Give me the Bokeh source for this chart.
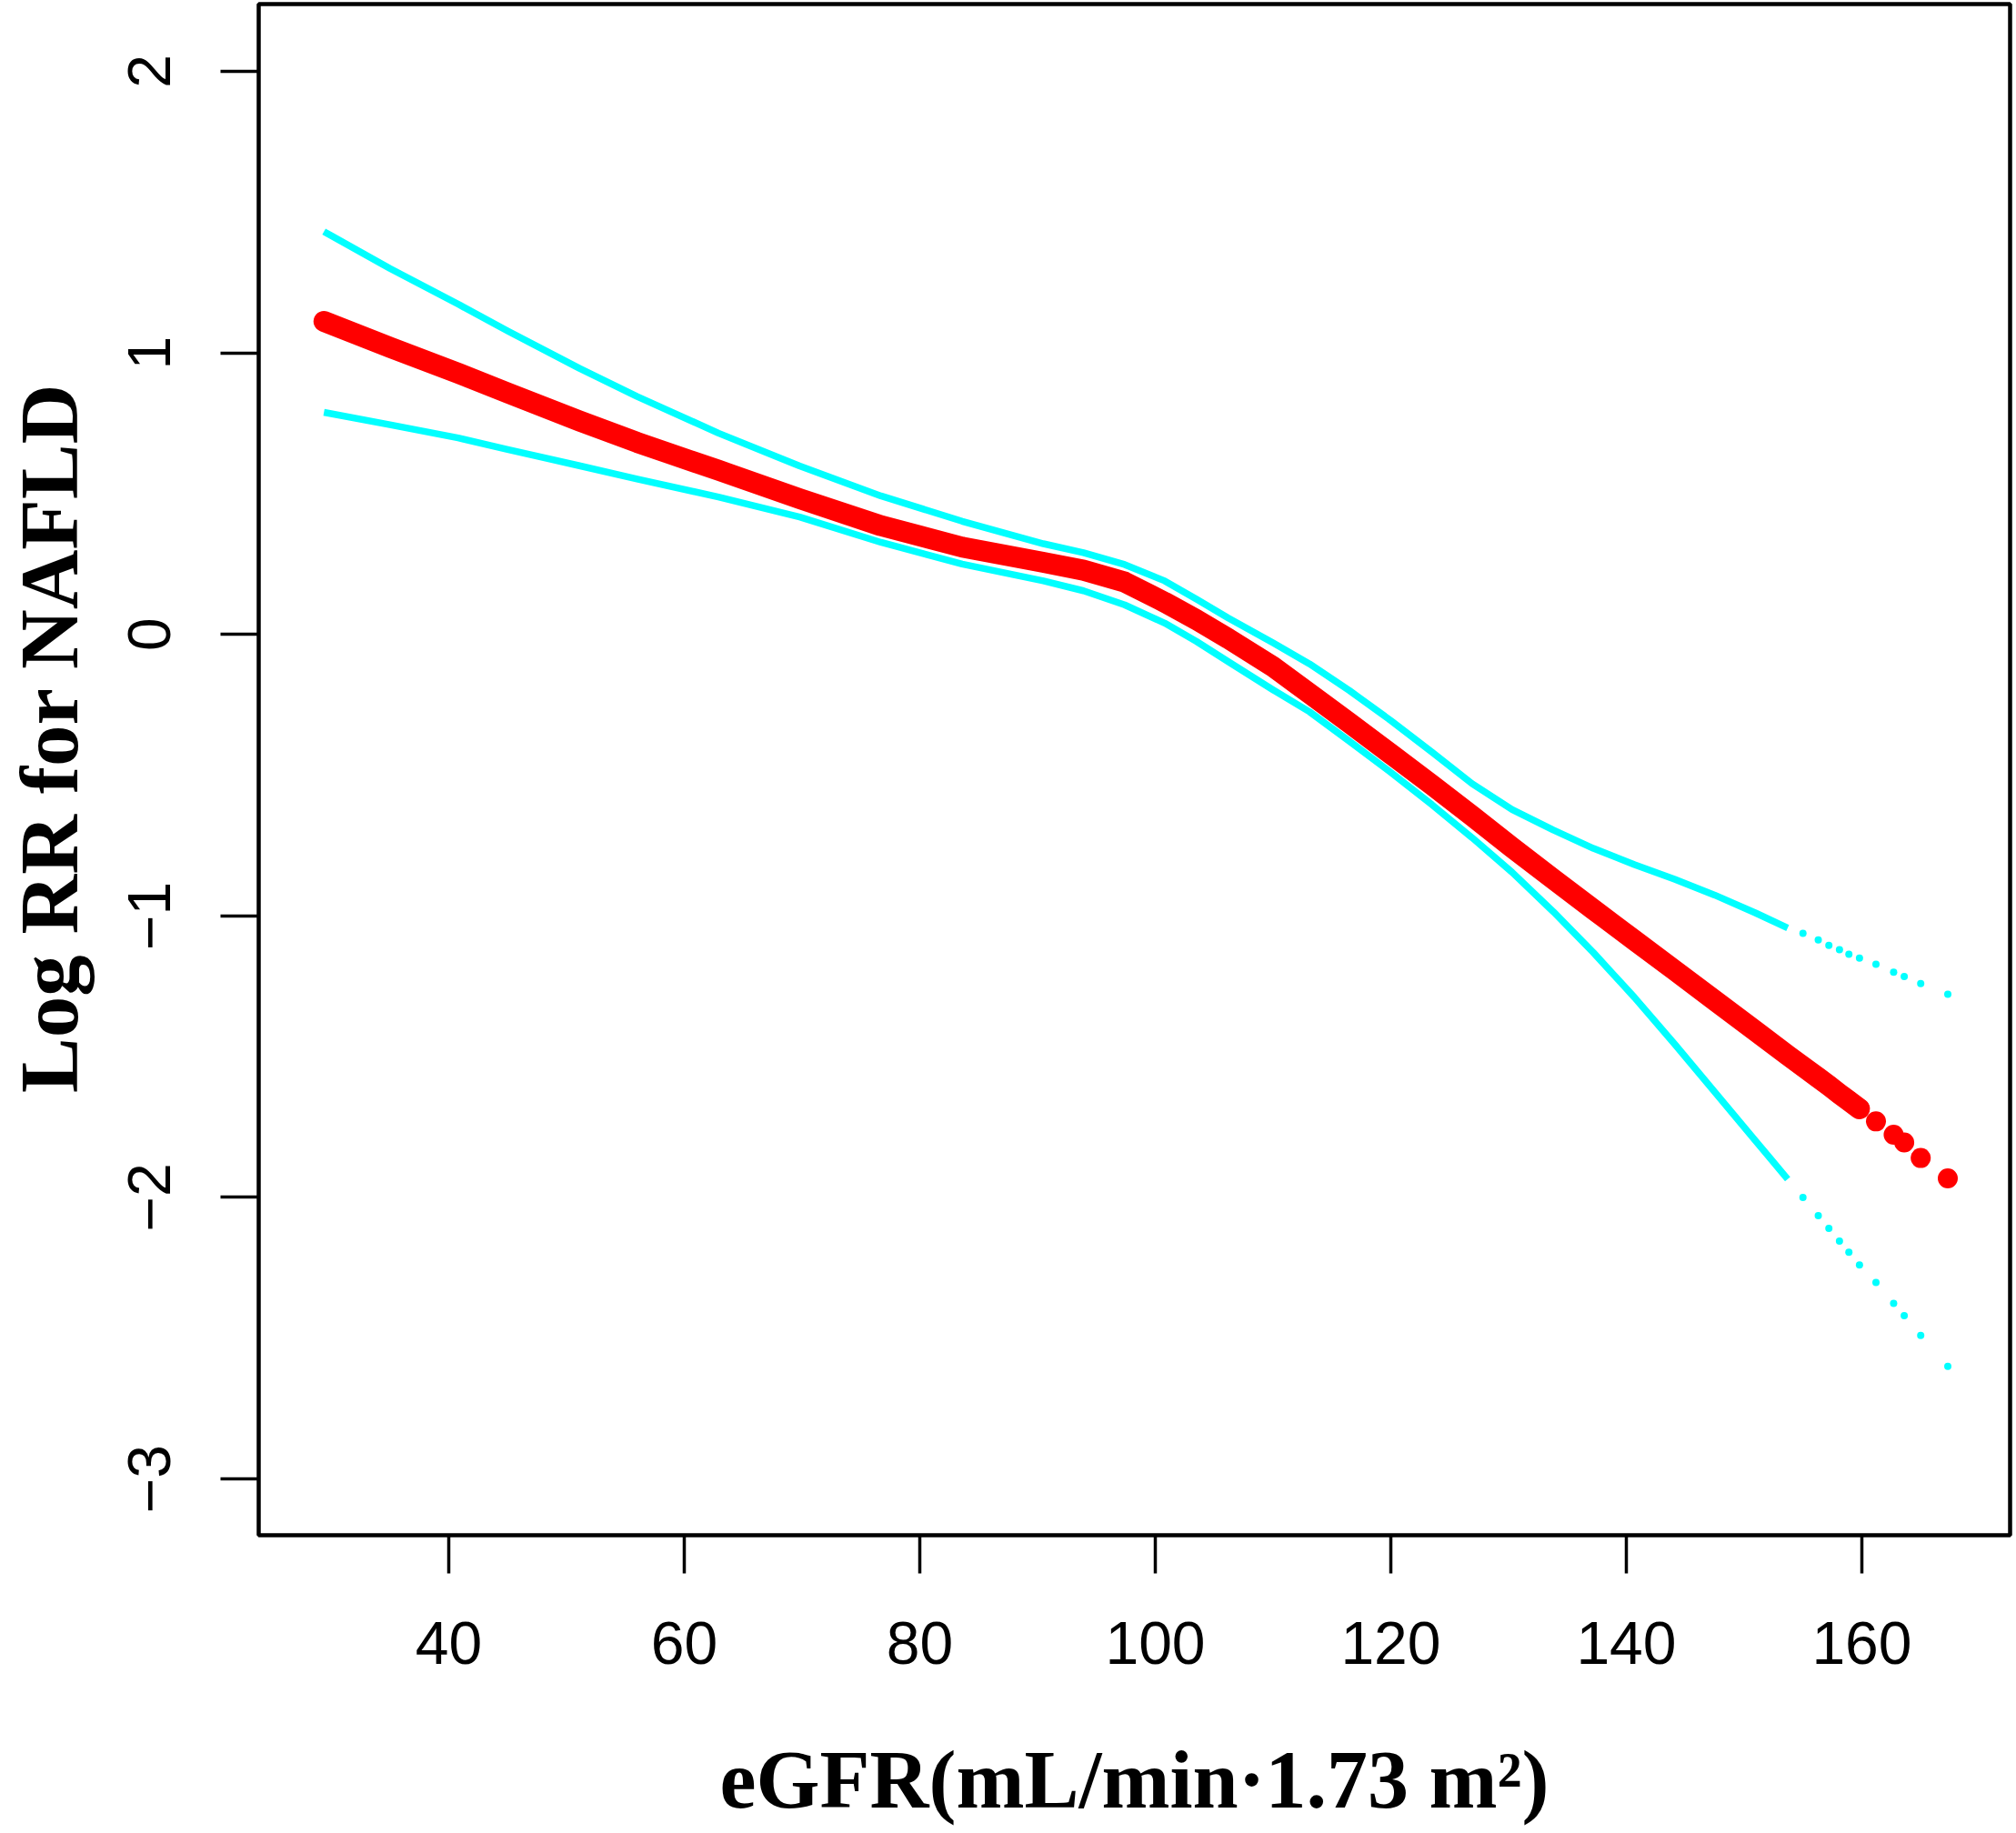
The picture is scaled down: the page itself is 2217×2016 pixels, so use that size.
import math
from bokeh.plotting import figure
from bokeh.layouts import row
from bokeh.models import FixedTicker, Range1d
from bokeh.core.properties import value
from bokeh.embed import file_html
from bokeh.resources import INLINE

# ---- data ----
egfr = [29.4, 35.0, 40.8, 45.0, 51.1, 56.0, 62.9, 69.8, 76.7, 83.6, 90.5, 93.9,
        97.4, 100.8, 103.5, 106.2, 110.0, 113.1, 116.5, 120.0, 123.5, 126.9,
        130.3, 133.8, 137.2, 140.7, 144.1, 147.5, 151.0, 153.7]
log_rr = [1.112, 1.020, 0.928, 0.858, 0.758, 0.682, 0.583, 0.482, 0.386, 0.310, 0.256, 0.228,
          0.186, 0.114, 0.052, -0.015, -0.115, -0.210, -0.315, -0.425, -0.535, -0.645,
          -0.757, -0.869, -0.977, -1.087, -1.193, -1.300, -1.410, -1.495]
upper = [1.431, 1.300, 1.173, 1.078, 0.945, 0.845, 0.715, 0.598, 0.492, 0.402, 0.322, 0.290,
         0.248, 0.190, 0.125, 0.058, -0.030, -0.105, -0.200, -0.306, -0.418, -0.530,
         -0.622, -0.695, -0.760, -0.818, -0.870, -0.926, -0.990, -1.043]
lower = [0.789, 0.745, 0.698, 0.657, 0.599, 0.552, 0.488, 0.417, 0.327, 0.250, 0.190, 0.155,
         0.105, 0.040, -0.025, -0.097, -0.197, -0.275, -0.380, -0.490, -0.605, -0.722,
         -0.845, -0.985, -1.130, -1.290, -1.455, -1.625, -1.800, -1.935]

egfr_tail = [155.0, 156.3, 157.2, 158.1, 158.9, 159.8, 161.2, 162.7, 163.6, 165.0, 167.3]
log_rr_tail = [-1.535, -1.575, -1.603, -1.632, -1.657, -1.685, -1.730, -1.777, -1.805, -1.860, -1.932]
upper_tail = [-1.062, -1.085, -1.105, -1.120, -1.136, -1.150, -1.172, -1.200, -1.215, -1.240, -1.278]
lower_tail = [-2.000, -2.065, -2.110, -2.155, -2.195, -2.240, -2.302, -2.376, -2.420, -2.490, -2.600]

x_ticks = [40, 60, 80, 100, 120, 140, 160]
y_ticks = [-3, -2, -1, 0, 1, 2]
x_title = "eGFR(mL/min\u00b71.73 m\u00b2)"
y_title = "Log RR for NAFLD"

FRAME_H = 1684

# ---- narrow strip holding the rotated y title (its frame is aligned with the main frame) ----
pt = figure(width=110, height=2012, x_range=Range1d(0, 110), y_range=Range1d(0, FRAME_H),
            x_axis_location=None, y_axis_location=None,
            output_backend="svg", toolbar_location=None,
            min_border_left=0, min_border_right=0, min_border_top=4, min_border_bottom=324)
pt.grid.visible = False
pt.outline_line_color = None
pt.background_fill_color = "white"
pt.border_fill_color = "white"
pt.text(x=[54], y=[877], text=[y_title], angle=math.pi / 2,
        text_font=value("Liberation Serif"), text_font_style="bold",
        text_font_size="91px", text_align="center", text_baseline="alphabetic",
        text_color="black")

# ---- main plot ----
p = figure(frame_width=1926, frame_height=FRAME_H,
           x_range=Range1d(23.86, 172.59), y_range=Range1d(-3.2, 2.239),
           output_backend="svg", toolbar_location=None,
           min_border_left=174, min_border_right=7, min_border_top=4, min_border_bottom=324)
p.background_fill_color = "white"
p.border_fill_color = "white"
p.grid.visible = False
p.outline_line_color = "black"
p.outline_line_width = 4.5

for ax in (p.xaxis[0], p.yaxis[0]):
    ax.axis_line_color = None
    ax.minor_tick_line_color = None
    ax.major_tick_in = 0
    ax.major_tick_out = 42
    ax.major_tick_line_width = 3.5
    ax.major_tick_line_color = "black"
    ax.major_label_text_font = "Liberation Sans"
    ax.major_label_text_font_size = "66px"
    ax.major_label_text_color = "black"

p.xaxis.ticker = FixedTicker(ticks=x_ticks)
p.yaxis.ticker = FixedTicker(ticks=y_ticks)
p.xaxis.major_label_standoff = 53
p.yaxis.major_label_standoff = 55
p.yaxis.major_label_orientation = "vertical"

p.xaxis.axis_label = x_title
p.xaxis.axis_label_text_font = "Liberation Serif"
p.xaxis.axis_label_text_font_style = "bold"
p.xaxis.axis_label_text_color = "black"
p.xaxis.axis_label_text_font_size = "90px"
p.xaxis.axis_label_standoff = 75

# ---- curves ----
red_x = egfr + egfr_tail[:6]
red_y = log_rr + log_rr_tail[:6]
p.line(red_x, red_y, line_color="#ff0000", line_width=23, line_cap="round", line_join="round")
p.scatter(egfr_tail, log_rr_tail, size=22, color="#ff0000", line_width=0)

p.line(egfr, upper, line_color="#00ffff", line_width=7.5, line_join="round")
p.line(egfr, lower, line_color="#00ffff", line_width=7.5, line_join="round")
p.scatter(egfr_tail, upper_tail, size=8, color="#00ffff", line_width=0)
p.scatter(egfr_tail, lower_tail, size=8, color="#00ffff", line_width=0)

layout = row(pt, p, spacing=0)
open("out.html", "w").write(file_html(layout, INLINE))
